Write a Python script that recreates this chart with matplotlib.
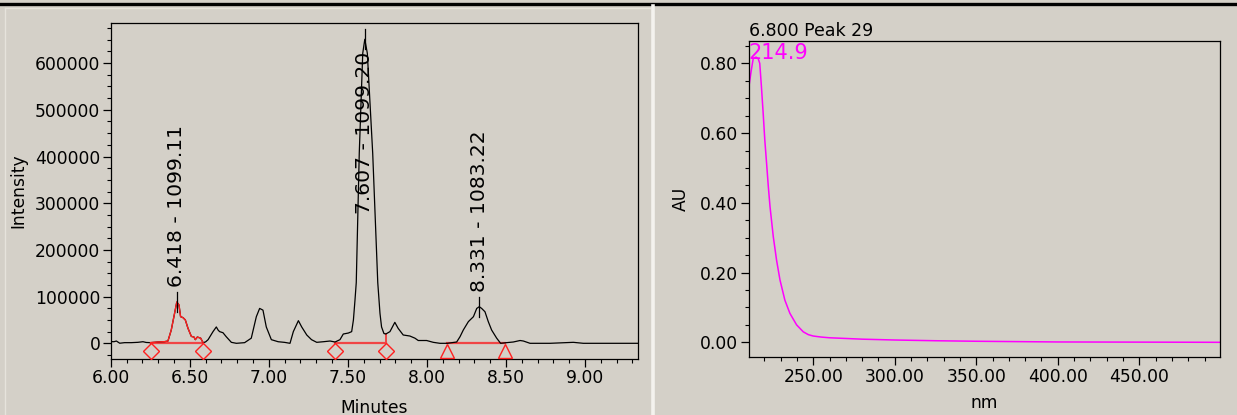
import matplotlib
matplotlib.use("Agg")
import matplotlib.pyplot as plt
from matplotlib.lines import Line2D
from matplotlib.ticker import MultipleLocator, FormatStrFormatter
import numpy as np

# ---------------- chromatogram (left) ----------------
time_min = [
    6.000, 6.020, 6.036, 6.057, 6.088, 6.130, 6.172, 6.204, 6.225, 6.252,
    6.299, 6.340, 6.362, 6.383, 6.404, 6.418, 6.432, 6.442, 6.457, 6.472,
    6.489, 6.510, 6.527, 6.535, 6.548, 6.569, 6.584, 6.600, 6.616, 6.647,
    6.668, 6.680, 6.689, 6.710, 6.731, 6.763, 6.795, 6.847, 6.889, 6.921,
    6.942, 6.963, 6.984, 7.016, 7.059, 7.100, 7.134, 7.155, 7.187, 7.208,
    7.240, 7.270, 7.303, 7.345, 7.387, 7.419, 7.450, 7.471, 7.503, 7.524,
    7.535, 7.545, 7.553, 7.572, 7.594, 7.607, 7.623, 7.657, 7.689, 7.703,
    7.713, 7.728, 7.740, 7.766, 7.797, 7.818, 7.850, 7.892, 7.924, 7.945,
    7.998, 8.040, 8.082, 8.129, 8.188, 8.209, 8.230, 8.262, 8.294, 8.315,
    8.331, 8.346, 8.367, 8.388, 8.409, 8.441, 8.466, 8.504, 8.546, 8.589,
    8.610, 8.652, 8.778, 8.926, 8.989, 9.158, 9.338,
]
intensity = [
    3800, 3400, 4900, 200, 1400, 1400, 2100, 3400, 1800, 1400,
    2800, 3500, 4900, 28500, 64200, 88400, 82000, 57000, 55000, 50000,
    32000, 14800, 13400, 7800, 13400, 11000, 1400, 3000, 7800, 25000,
    35000, 28000, 25000, 22700, 14000, 2100, 0, 1400, 11000, 57000,
    74700, 71000, 35000, 7800, 3400, 2000, 0, 25000, 48500, 35000,
    17800, 7800, 2100, 3400, 4900, 2800, 7800, 19900, 22000, 25000,
    50000, 92700, 130000, 407000, 621000, 651000, 621000, 407000, 130000, 64200,
    35000, 21000, 19900, 25000, 44900, 32000, 17800, 15600, 11000, 6000,
    6000, 2100, 0, 0, 2800, 14000, 28500, 46400, 57000, 74700,
    78400, 74700, 67600, 46400, 28500, 11000, 0, 1400, 2800, 6000,
    4900, 0, 0, 2100, 0, 0, 0,
]

# integrated peaks
peak_rt = [6.418, 7.607, 8.331]
peak_mz = [1099.11, 1099.20, 1083.22]
peak_height = [88400, 651000, 78400]
int_start = [6.252, 7.419, 8.129]
int_end = [6.584, 7.740, 8.493]
int_marker = ["D", "D", "^"]

# ---------------- UV spectrum (right) ----------------
wavelength_nm = [
    210.3, 212.0, 213.2, 214.9, 216.2, 217.2, 218.2, 219.3, 220.3, 221.4,
    222.4, 223.5, 225.5, 227.5, 229.6, 232.6, 235.7, 239.8, 243.9, 247.0,
    250.0, 255.0, 260.0, 270.0, 280.0, 300.0, 325.0, 350.0, 375.0, 400.0,
    450.0, 499.5,
]
absorbance_au = [
    0.725, 0.780, 0.814, 0.818, 0.814, 0.800, 0.735, 0.657, 0.580, 0.513,
    0.450, 0.389, 0.303, 0.236, 0.179, 0.121, 0.083, 0.050, 0.030, 0.022,
    0.018, 0.015, 0.013, 0.011, 0.009, 0.0066, 0.0045, 0.003, 0.002, 0.001,
    0.0005, 0.0,
]
spectrum_title = "6.800 Peak 29"
lambda_max = 214.9

BG = "#d4d0c8"
RED = "#ff2020"
BASE_RED = "#f04545"
MAGENTA = "#ff00ff"
FS = 12.3

plt.rcParams["font.family"] = ["DejaVu Sans"]

W, H = 1237, 415
fig = plt.figure(figsize=(W / 100, H / 100), dpi=100, facecolor=BG)


def px_rect(x0, y0, x1, y1):
    return [x0 / W, 1 - y1 / H, (x1 - x0) / W, (y1 - y0) / H]


# frame decorations
fig.add_artist(Line2D([0, 1], [1 - 4.3 / H] * 2, transform=fig.transFigure,
                      color="black", lw=2.4))
fig.add_artist(Line2D([652.5 / W] * 2, [0, 1 - 6.5 / H], transform=fig.transFigure,
                      color="#f4f2ee", lw=2.6))
fig.add_artist(Line2D([5 / W] * 2, [0, 1 - 8 / H], transform=fig.transFigure,
                      color="#e6e3dc", lw=1.0))
fig.add_artist(Line2D([5 / W, 650 / W], [1 - 8 / H] * 2, transform=fig.transFigure,
                      color="#e6e3dc", lw=1.0))

# ---------------- left panel ----------------
ax1 = fig.add_axes(px_rect(110.7, 22.7, 638.5, 359.0), facecolor=BG)
t = np.array(time_min)
y = np.array(intensity)
ax1.plot(t, y, color="black", lw=0.9, zorder=3)

# first peak drawn in red between its integration limits
m = (t >= int_start[0]) & (t <= int_end[0])
ax1.plot(t[m], y[m], color=RED, lw=1.0, zorder=4)

marker_size = {"D": 8.5, "^": 10.5}
for s, e, mk in zip(int_start, int_end, int_marker):
    ax1.plot([s, e], [0, 0], color=BASE_RED, lw=1.6, zorder=2)
    ax1.plot([s, e], [-16500, -16500], ls="none", marker=mk, ms=marker_size[mk],
             mfc="none", mec=RED, mew=1.0, clip_on=False, zorder=5)
# drop line at the end of the second peak
ax1.plot([int_end[1], int_end[1]], [0, np.interp(int_end[1], t, y)],
         color=BASE_RED, lw=1.4, zorder=2)

ax1.set_xlim(6.0, 9.338)
ax1.set_ylim(-33600, 686500)

ax1.xaxis.set_major_locator(MultipleLocator(0.5))
ax1.xaxis.set_minor_locator(MultipleLocator(0.1))
ax1.xaxis.set_major_formatter(FormatStrFormatter("%.2f"))
ax1.yaxis.set_major_locator(MultipleLocator(100000))
ax1.yaxis.set_minor_locator(MultipleLocator(25000))
ax1.yaxis.set_major_formatter(FormatStrFormatter("%d"))

# peak apex ticks and labels
labels = []
for rt, mz, h in zip(peak_rt, peak_mz, peak_height):
    ax1.plot([rt, rt], [h - 21400, h + 21400], color="black", lw=0.9, zorder=6)
    txt = ax1.text(rt, h + 32000, f"{rt:.3f} - {mz:.2f}", rotation=90,
                   ha="center", va="bottom", fontsize=14.6, zorder=7)
    labels.append(txt)

# ---------------- right panel ----------------
ax2 = fig.add_axes(px_rect(748.5, 40.7, 1220.0, 357.3), facecolor=BG)
ax2.plot(wavelength_nm, absorbance_au, color=MAGENTA, lw=1.1)
ax2.set_xlim(210.3, 499.5)
ax2.set_ylim(-0.043, 0.865)
ax2.xaxis.set_major_locator(MultipleLocator(50))
ax2.xaxis.set_minor_locator(MultipleLocator(10))
ax2.xaxis.set_major_formatter(FormatStrFormatter("%.2f"))
ax2.yaxis.set_major_locator(MultipleLocator(0.2))
ax2.yaxis.set_minor_locator(MultipleLocator(0.05))
ax2.yaxis.set_major_formatter(FormatStrFormatter("%.2f"))
ax2.set_xticks([250, 300, 350, 400, 450])

ax2.annotate(f"{lambda_max:.1f}", xy=(0.0, 0.9412), xycoords="axes fraction",
             ha="left", va="baseline", fontsize=15, color=MAGENTA)
ax2.annotate(spectrum_title, xy=(0.0, 1.0), xycoords="axes fraction",
             xytext=(0, 3.4), textcoords="offset points",
             ha="left", va="baseline", fontsize=12.5)

for ax in (ax1, ax2):
    for sp in ax.spines.values():
        sp.set_color("black")
        sp.set_linewidth(0.9)
    ax.tick_params(which="major", direction="out", length=5.5, width=0.9,
                   labelsize=FS, pad=2, colors="black")
    ax.tick_params(which="minor", direction="out", length=3, width=0.8,
                   colors="black")

# axis titles
fig.text(18 / W, 1 - 190.8 / H, "Intensity", rotation=90, ha="center",
         va="center", fontsize=FS)
fig.text(374 / W, 1 - 413 / H, "Minutes", ha="center", va="baseline", fontsize=FS)
fig.text(681 / W, 1 - 199 / H, "AU", rotation=90, ha="center", va="center",
         fontsize=FS)
fig.text(984 / W, 1 - 408 / H, "nm", ha="center", va="baseline", fontsize=FS)

# keep tall peak labels inside the plot area
fig.canvas.draw()
ceiling = ax1.transAxes.transform((0, 0.9138))[1]
for txt in labels:
    bb = txt.get_window_extent()
    if bb.y1 > ceiling:
        x_data = txt.get_position()[0]
        y_top = ax1.transData.inverted().transform((0, ceiling))[1]
        txt.set_position((x_data, y_top))
        txt.set_va("top")

fig.savefig("out.png", dpi=100, facecolor=BG)
